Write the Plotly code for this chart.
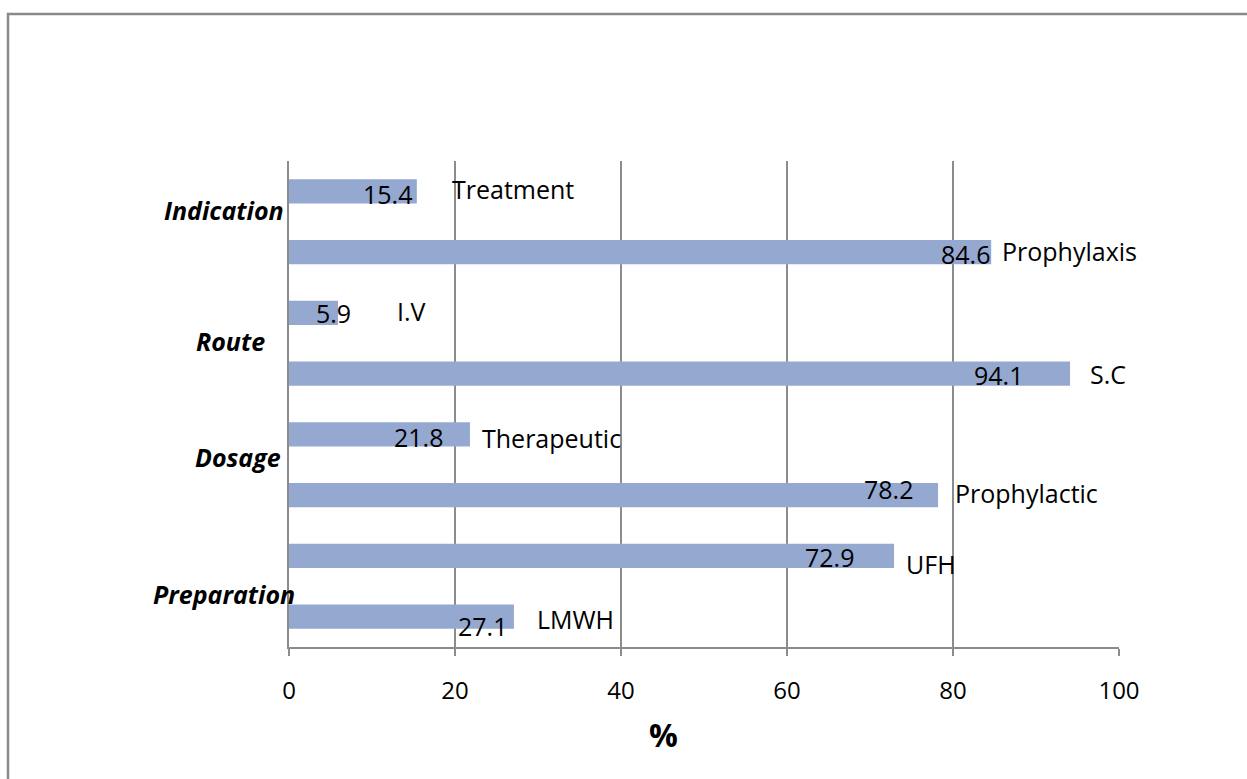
import plotly.graph_objects as go

# Anticoagulant use profile (%)
groups = ["Indication", "Route", "Dosage", "Preparation"]
options = ["Treatment", "Prophylaxis", "I.V", "S.C",
           "Therapeutic", "Prophylactic", "UFH", "LMWH"]
percent = [15.4, 84.6, 5.9, 94.1, 21.8, 78.2, 72.9, 27.1]
x_ticks = [0, 20, 40, 60, 80, 100]

# label placement (pixel shifts relative to each bar end)
value_dx = [-3, 1, 15, -45, -25, -23, -38, -5]
value_dy = [-3, -2, 0, -1, -3, 6, -1, -9]
name_dx = [33, 9, 57, 18, 10, 15, 10, 21]
name_dy = [2, 1, 2, 0, -4, 2, -8, -2]
group_dx = [-3, -22, -6, 8]
group_py = [210, 341, 457, 594]

BAR = "#95A8D0"
GRID = "#8c8c8c"
FONT = "Open Sans"

fig = go.Figure(go.Bar(
    x=percent, y=options, orientation="h",
    marker=dict(color=BAR, line=dict(width=0)),
    width=0.4, hoverinfo="x+y",
))

ann = []
for v, o, dx, dy in zip(percent, options, value_dx, value_dy):
    ann.append(dict(x=v, y=o, xref="x", yref="y", text=f"{v}",
                    xanchor="right", yanchor="middle", xshift=dx, yshift=dy,
                    showarrow=False, font=dict(family=FONT, size=25, color="#000")))
for v, o, dx, dy in zip(percent, options, name_dx, name_dy):
    ann.append(dict(x=v, y=o, xref="x", yref="y", text=o,
                    xanchor="left", yanchor="middle", xshift=dx, yshift=dy,
                    showarrow=False, font=dict(family=FONT, size=25, color="#000")))

plot_top, plot_bottom = 161, 647
plot_h = plot_bottom - plot_top
for g, dx, py in zip(groups, group_dx, group_py):
    ann.append(dict(x=0, y=(plot_bottom - py) / plot_h, xref="x", yref="paper",
                    text=f"<b><i>{g}</i></b>", xanchor="right", yanchor="middle",
                    xshift=dx, showarrow=False,
                    font=dict(family=FONT, size=25, color="#000")))

# axis title
ann.append(dict(x=(663 - 289) / 830, y=(plot_bottom - 734) / plot_h,
                xref="paper", yref="paper", text="<b>%</b>",
                xanchor="center", yanchor="middle", showarrow=False,
                font=dict(family=FONT, size=32, color="#000")))

fig.update_layout(
    width=1247, height=779,
    margin=dict(l=289, r=128, t=plot_top, b=779 - plot_bottom),
    paper_bgcolor="white", plot_bgcolor="white",
    showlegend=False,
    annotations=ann,
    xaxis=dict(range=[0, 100], tickvals=x_ticks, showgrid=True,
               gridcolor=GRID, gridwidth=1.5, zeroline=False,
               showline=True, linecolor=GRID, linewidth=1.5,
               ticks="outside", ticklen=7, tickcolor=GRID, tickwidth=1.5,
               ticklabelstandoff=14,
               tickfont=dict(family=FONT, size=24, color="#000")),
    yaxis=dict(autorange="reversed", showticklabels=False, showgrid=False,
               zeroline=False, showline=True, linecolor=GRID, linewidth=1.5,
               ticks=""),
    shapes=[dict(type="rect", xref="paper", yref="paper",
                 x0=(8 - 289) / 830, x1=(1260 - 289) / 830,
                 y0=(plot_bottom - 790) / plot_h, y1=(plot_bottom - 14) / plot_h,
                 line=dict(color="#8a8a8a", width=2.5), layer="below")],
)

fig.write_html("out.html")
